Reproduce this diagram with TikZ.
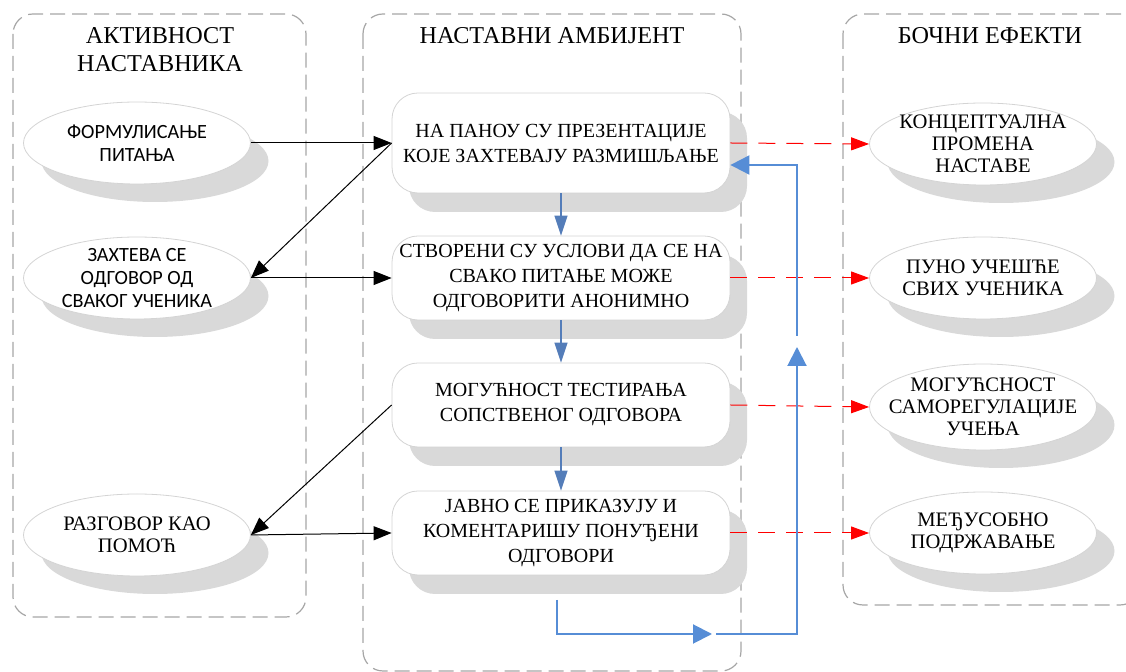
\documentclass[tikz,border=0pt]{standalone}
\usepackage{fontspec}
\setmainfont{Liberation Serif}
\newfontfamily\calibri{Carlito}
\usetikzlibrary{arrows.meta,shapes.geometric,shadows}
\definecolor{shadowgray}{RGB}{217,217,217}
\definecolor{edgegray}{RGB}{212,212,212}
\definecolor{framegray}{RGB}{166,166,166}
\definecolor{downblue}{RGB}{84,125,185}
\definecolor{loopblue}{RGB}{86,141,214}
\begin{document}
\begin{tikzpicture}[x=0.5pt,y=-0.5pt,
  frame/.style={draw=framegray,line width=0.6pt,dash pattern=on 7.5pt off 3.5pt,rounded corners=10pt},
  title/.style={font=\fontsize{12.1}{14}\selectfont,align=center},
  oval/.style={ellipse,draw=edgegray,fill=white,line width=0.4pt,align=center,
    minimum width=113.5pt,minimum height=41pt,inner xsep=-14pt,inner ysep=-5pt,
    font=\fontsize{10.3}{11}\selectfont,
    drop shadow={fill=shadowgray,opacity=1,shadow xshift=9pt,shadow yshift=-9pt}},
  sansoval/.style={oval,font=\calibri\fontsize{10.1}{11.5}\selectfont},
  stage/.style={rectangle,rounded corners=13pt,draw=edgegray,fill=white,line width=0.4pt,
    align=center,minimum width=169pt,minimum height=42pt,inner sep=0pt,
    font=\fontsize{10}{12.5}\selectfont,
    drop shadow={fill=shadowgray,opacity=1,shadow xshift=8.5pt,shadow yshift=-9.5pt}},
  actarrow/.style={-{Triangle[length=9pt,width=7pt]},line width=0.5pt},
  sidearrow/.style={-{Triangle[length=9pt,width=6.5pt]},red,line width=0.5pt,dash pattern=on 8.5pt off 5.5pt},
  downarrow/.style={-{Triangle[length=10pt,width=6.5pt]},downblue,line width=0.7pt},
  looparrow/.style={-{Triangle[length=9.5pt,width=9.5pt]},loopblue,line width=1pt}]
\useasboundingbox (0,0) rectangle (1126,672);
% columns
\draw[frame] (13,14) rectangle (306,617);
\draw[frame] (363,14) rectangle (741,671);
\draw[frame] (843,14) rectangle (1140,605);
\node[title] (acttitle) at (160,50) {АКТИВНОСТ\\НАСТАВНИКА};
\node[title] (envtitle) at (552,36) {НАСТАВНИ АМБИЈЕНТ};
\node[title] (sidetitle) at (990,36) {БОЧНИ ЕФЕКТИ};
% teacher activity
\node[sansoval] (formul) at (137,143) {ФОРМУЛИСАЊЕ\\ПИТАЊА};
\node[sansoval] (answer) at (137,278) {ЗАХТЕВА СЕ\\ОДГОВОР ОД\\СВАКОГ УЧЕНИКА};
\node[oval] (talk) at (137,535) {РАЗГОВОР КАО\\ПОМОЋ};
% teaching environment
\node[stage,minimum height=50pt] (panel) at (561,143) {НА ПАНОУ СУ ПРЕЗЕНТАЦИЈЕ\\КОЈЕ ЗАХТЕВАЈУ РАЗМИШЉАЊЕ};
\node[stage] (anon) at (561,278) {СТВОРЕНИ СУ УСЛОВИ ДА СЕ НА\\СВАКО ПИТАЊЕ МОЖЕ\\ОДГОВОРИТИ АНОНИМНО};
\node[stage] (test) at (561,405) {МОГУЋНОСТ ТЕСТИРАЊА\\СОПСТВЕНОГ ОДГОВОРА};
\node[stage] (public) at (561,533) {ЈАВНО СЕ ПРИКАЗУЈУ И\\КОМЕНТАРИШУ ПОНУЂЕНИ\\ОДГОВОРИ};
% side effects
\node[oval] (concept) at (983,144) {КОНЦЕПТУАЛНА\\ПРОМЕНА\\НАСТАВЕ};
\node[oval] (full) at (983,278) {ПУНО УЧЕШЋЕ\\СВИХ УЧЕНИКА};
\node[oval,minimum height=43pt] (selfreg) at (983,407) {МОГУЋСНОСТ\\САМОРЕГУЛАЦИЈЕ\\УЧЕЊА};
\node[oval] (mutual) at (983,533) {МЕЂУСОБНО\\ПОДРЖАВАЊЕ};
% connectors
\draw[actarrow] (formul.east) -- (panel.west);
\draw[actarrow] (panel.west) -- (answer.east);
\draw[actarrow] (answer.east) -- (anon.west);
\draw[actarrow] (test.west) -- (talk.east);
\draw[actarrow] (talk.east) -- (public.west);
\draw[downarrow] (panel.south) -- (anon.north);
\draw[downarrow] (anon.south) -- (test.north);
\draw[downarrow] (test.south) -- (public.north);
\draw[sidearrow] (panel.east) -- (concept.west);
\draw[sidearrow] (anon.east) -- (full.west);
\draw[sidearrow] (test.east) -- (selfreg.west);
\draw[sidearrow] (public.east) -- (mutual.west);
\coordinate (loopstart) at (557,600);
\coordinate (loopmid) at (712,634);
\coordinate (looprun) at (716,634);
\coordinate (loopup) at (797,347);
\coordinate (looptop) at (797,336);
\draw[looparrow] (loopstart) |- (loopmid);
\draw[looparrow] (looprun) -| (loopup);
\draw[looparrow] (looptop) |- ([yshift=-11pt]panel.east);
\end{tikzpicture}
\end{document}
